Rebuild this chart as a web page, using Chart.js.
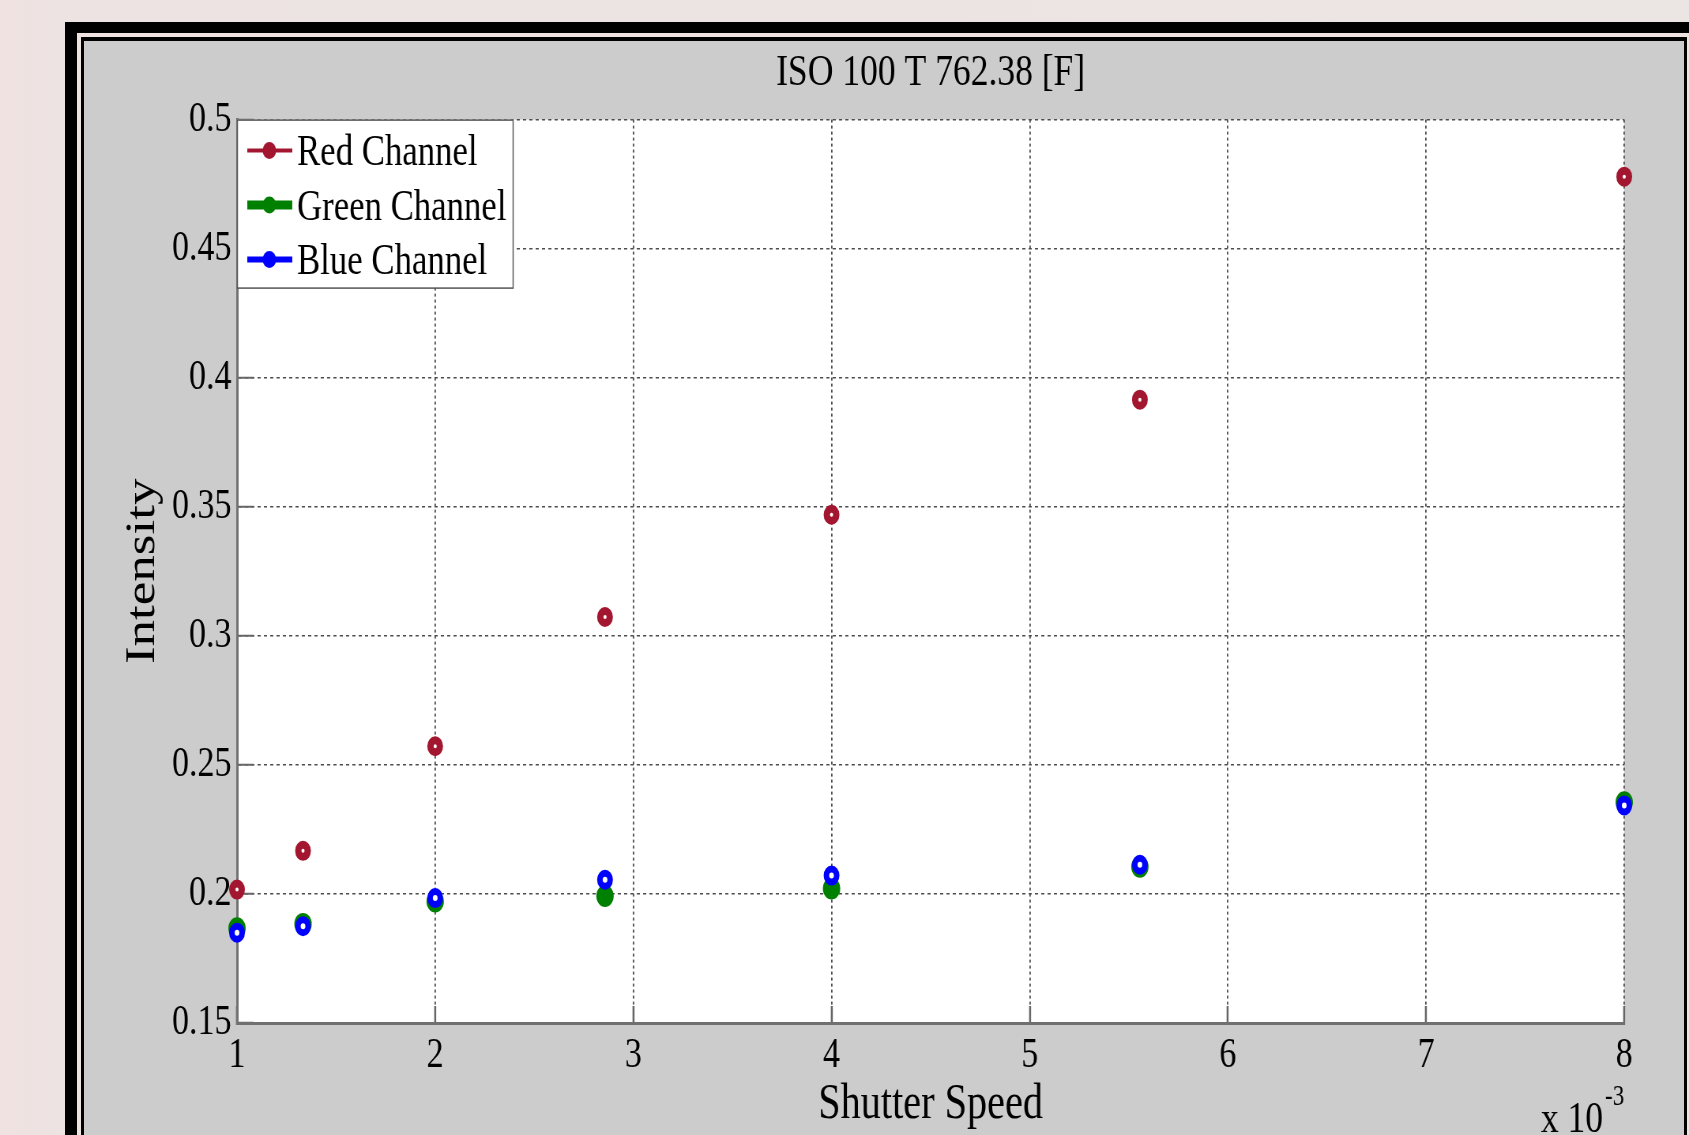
<!DOCTYPE html>
<html>
<head>
<meta charset="utf-8">
<title>ISO 100 T 762.38 [F]</title>
<script src="https://cdn.jsdelivr.net/npm/chart.js@4.4.0/dist/chart.umd.min.js"></script>
<style>
  html, body {
    margin: 0;
    padding: 0;
    width: 1689px;
    height: 1135px;
    overflow: hidden;
    background: linear-gradient(90deg, #f0e2e0 0px, #ece3e2 60px, #ebe5e4 100%);
  }
  .frame { position: absolute; }
  /* the figure is squeezed horizontally, like the exported picture */
  #c {
    position: absolute;
    left: 0;
    top: 0;
    width: 1689px !important;
    height: 1135px !important;
  }
</style>
</head>
<body>
<div class="frame" style="left:65px;top:22px;right:0;bottom:0;background:#000"></div>
<div class="frame" style="left:77px;top:33px;right:0;bottom:0;background:#efe3e1"></div>
<div class="frame" style="left:81px;top:37px;right:2px;bottom:0;background:#000"></div>
<div class="frame" style="left:84px;top:41px;right:5px;bottom:0;background:#cccccc"></div>
<canvas id="c" width="2138" height="1135"></canvas>
<script>
// shutter speed in units of 1e-3 s
const shutterMs = [1, 1.333, 2, 2.857, 4, 5.556, 8];
const redChannel = [0.2017, 0.2167, 0.2572, 0.3073, 0.3469, 0.3915, 0.4779];
const greenChannel = [0.1867, 0.1884, 0.1971, 0.1992, 0.2021, 0.2105, 0.2355];
const blueChannel = [0.1850, 0.1875, 0.1984, 0.2055, 0.2071, 0.2113, 0.2343];
const xTickValues = [1, 2, 3, 4, 5, 6, 7, 8];
const yTickValues = [0.15, 0.2, 0.25, 0.3, 0.35, 0.4, 0.45, 0.5];

const serif = '"Liberation Serif", "Times New Roman", serif';
const legendLineWidths = [4, 9, 6];

const toPoints = ys => shutterMs.map((x, i) => ({ x: x, y: ys[i] }));

const plotBg = {
  id: 'plotBg',
  beforeDraw(chart) {
    const a = chart.chartArea;
    chart.ctx.save();
    chart.ctx.fillStyle = '#fff';
    chart.ctx.fillRect(a.left, a.top, a.right - a.left, a.bottom - a.top);
    chart.ctx.restore();
  }
};

const boxLegend = {
  id: 'boxLegend',
  afterDraw(chart) {
    const ctx = chart.ctx;
    const x0 = chart.chartArea.left, y0 = chart.chartArea.top;
    ctx.save();
    ctx.fillStyle = '#fff';
    ctx.fillRect(x0, y0, 349, 168);
    ctx.strokeStyle = '#555';
    ctx.lineWidth = 1.5;
    ctx.strokeRect(x0 + 0.5, y0 + 0.5, 349, 168);
    ctx.font = '44px ' + serif;
    ctx.textBaseline = 'middle';
    ctx.textAlign = 'left';
    chart.data.datasets.forEach((ds, i) => {
      const y = y0 + 31 + i * 54.5;
      ctx.strokeStyle = ds.borderColor;
      ctx.lineWidth = legendLineWidths[i];
      ctx.beginPath();
      ctx.moveTo(x0 + 13, y);
      ctx.lineTo(x0 + 70, y);
      ctx.stroke();
      ctx.fillStyle = ds.borderColor;
      ctx.beginPath();
      ctx.arc(x0 + 41, y, 8.5, 0, Math.PI * 2);
      ctx.fill();
      ctx.fillStyle = '#000';
      ctx.fillText(ds.label, x0 + 76, y + 3);
    });
    ctx.restore();
  }
};

const xExponent = {
  id: 'xExponent',
  afterDraw(chart) {
    const ctx = chart.ctx;
    const sx = chart.scales.x;
    ctx.save();
    ctx.fillStyle = '#000';
    ctx.textAlign = 'right';
    ctx.textBaseline = 'alphabetic';
    ctx.font = '29px ' + serif;
    ctx.fillText('-3', sx.right, sx.bottom - 30);
    const w = ctx.measureText('-3').width;
    ctx.font = '45px ' + serif;
    ctx.fillText('x 10', sx.right - w - 2.5, sx.bottom - 3);
    ctx.restore();
  }
};

new Chart(document.getElementById('c'), {
  type: 'scatter',
  data: {
    datasets: [{
      label: 'Red Channel',
      data: toPoints(redChannel),
      borderColor: '#a3162f',
      backgroundColor: '#ffffff',
      pointRadius: 6,
      pointBorderWidth: 8,
      clip: false,
      order: 3
    }, {
      label: 'Green Channel',
      data: toPoints(greenChannel),
      borderColor: '#008000',
      backgroundColor: '#008000',
      pointRadius: 9,
      pointBorderWidth: 4,
      clip: false,
      order: 2
    }, {
      label: 'Blue Channel',
      data: toPoints(blueChannel),
      borderColor: '#0000ff',
      backgroundColor: '#ffffff',
      pointRadius: 6.5,
      pointBorderWidth: 7,
      clip: false,
      order: 1
    }]
  },
  options: {
    responsive: false,
    animation: false,
    devicePixelRatio: 1,
    layout: { padding: { left: 0, right: 82, top: 0, bottom: 0 } },
    plugins: {
      legend: { display: false },
      tooltip: { enabled: false },
      title: {
        display: true,
        text: 'ISO 100 T 762.38 [F]',
        color: '#000',
        fullSize: false,
        font: { family: serif, size: 45, weight: 'normal' },
        padding: { top: 46.5, bottom: 19.1 }
      }
    },
    scales: {
      x: {
        type: 'linear',
        min: 1,
        max: 8,
        afterBuildTicks: s => { s.ticks = xTickValues.map(v => ({ value: v })); },
        afterFit: s => { s.height = 112; },
        ticks: {
          color: '#000',
          font: { family: serif, size: 43 },
          padding: 24,
          maxRotation: 0,
          callback: v => String(v)
        },
        grid: {
          color: '#4d4d4d',
          lineWidth: 1.8,
          drawTicks: true,
          tickLength: -17,
          tickColor: '#666',
          tickWidth: 2.5,
          tickBorderDash: []
        },
        border: { display: true, color: '#707070', width: 3, dash: [3, 3] },
        title: {
          display: true,
          text: 'Shutter Speed',
          color: '#000',
          font: { family: serif, size: 51 },
          padding: { top: 0, bottom: 0 }
        }
      },
      y: {
        type: 'linear',
        min: 0.15,
        max: 0.5,
        afterBuildTicks: s => { s.ticks = yTickValues.map(v => ({ value: v })); },
        afterFit: s => { s.width = 300; },
        ticks: {
          color: '#000',
          font: { family: serif, size: 43 },
          padding: 28,
          callback: v => String(Number(v.toFixed(2)))
        },
        grid: {
          color: '#4d4d4d',
          lineWidth: 1.5,
          drawTicks: true,
          tickLength: -21,
          tickColor: '#666',
          tickWidth: 2,
          tickBorderDash: []
        },
        border: { display: true, color: '#707070', width: 3, dash: [4, 4] },
        title: {
          display: true,
          text: 'Intensity',
          color: '#000',
          font: { family: serif, size: 53 },
          padding: { top: 149, bottom: 0 }
        }
      }
    }
  },
  plugins: [plotBg, boxLegend, xExponent]
});
</script>
</body>
</html>
